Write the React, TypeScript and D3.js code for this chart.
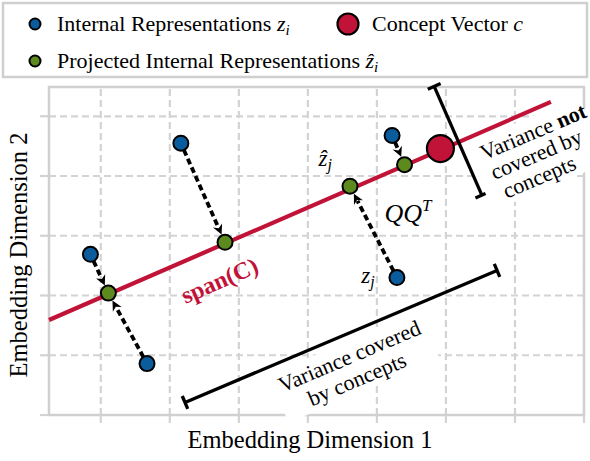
import React from "react";
import * as d3 from "d3";

// ---- data (data coordinates) ----
const xTicks = [0, 1, 2, 3, 4, 5, 6, 7];
const yTicks = [0, 1, 2, 3, 4, 5];

const blueX = [-0.15, 0.67, 1.16, 4.22, 4.29];
const blueY = [2.69, 0.86, 4.55, 4.68, 2.3];

const greenX = [0.11, 1.8, 3.61, 4.4];
const greenY = [2.04, 2.89, 3.83, 4.19];

// arrows: [blue index, green index]
const arrowPairs = [
  [0, 0],
  [1, 0],
  [2, 1],
  [3, 3],
  [4, 2],
];

const conceptX = [4.92];
const conceptY = [4.46];

const spanX = [-0.75, 6.52];
const spanY = [1.59, 5.24];

const coveredX = [1.22, 5.74];
const coveredY = [0.21, 2.42];

const notCoveredX = [4.83, 5.52];
const notCoveredY = [5.5, 3.68];

const BLUE = "#0b5c9c";
const GREEN = "#5d8a1e";
const RED = "#c11338";
const GRID = "#d3d3d3";
const INK = "#000";
const SERIF = "'Liberation Serif', 'Times New Roman', serif";

export default function App() {
  const W = 590;
  const H = 461;
  const x = d3.scaleLinear().domain([-0.75, 7]).range([49, 584]);
  const y = d3.scaleLinear().domain([0, 5.49]).range([415, 87]);
  const x0 = x.range()[0];
  const x1 = x.range()[1];
  const y0 = y.range()[0];
  const y1 = y.range()[1];

  const spanLine = d3
    .line<number>()
    .x((_, i) => x(spanX[i]))
    .y((_, i) => y(spanY[i]));

  const spanAngle =
    (Math.atan2(y(spanY[1]) - y(spanY[0]), x(spanX[1]) - x(spanX[0])) * 180) / Math.PI;

  const rPt = 7.5;
  const arrows = arrowPairs.map(([b, g], k) => {
    const sx = x(blueX[b]);
    const sy = y(blueY[b]);
    const ex = x(greenX[g]);
    const ey = y(greenY[g]);
    const dx = ex - sx;
    const dy = ey - sy;
    const L = Math.hypot(dx, dy);
    const ux = dx / L;
    const uy = dy / L;
    const px = -uy;
    const py = ux;
    const tipX = ex - ux * (rPt + 1);
    const tipY = ey - uy * (rPt + 1);
    const hl = 10;
    const hw = 10;
    const bx = tipX - ux * hl;
    const by = tipY - uy * hl;
    return (
      <g key={k}>
        <line
          x1={sx + ux * rPt}
          y1={sy + uy * rPt}
          x2={bx + ux * 2}
          y2={by + uy * 2}
          stroke={INK}
          strokeWidth={3.8}
          strokeDasharray="6,3.5"
        />
        <path
          d={`M${tipX},${tipY} L${bx + (px * hw) / 2},${by + (py * hw) / 2} L${bx + ux * 3},${by + uy * 3} L${bx - (px * hw) / 2},${by - (py * hw) / 2} Z`}
          fill={INK}
        />
      </g>
    );
  });

  const bracket = (xs: number[], ys: number[], key: string) => {
    const ax = x(xs[0]);
    const ay = y(ys[0]);
    const bx = x(xs[1]);
    const by = y(ys[1]);
    const L = Math.hypot(bx - ax, by - ay);
    const px = -(by - ay) / L;
    const py = (bx - ax) / L;
    const c = 7;
    return (
      <g key={key} stroke={INK} strokeWidth={3.3} strokeLinecap="butt">
        <line x1={ax} y1={ay} x2={bx} y2={by} />
        <line x1={ax - px * c} y1={ay - py * c} x2={ax + px * c} y2={ay + py * c} />
        <line x1={bx - px * c} y1={by - py * c} x2={bx + px * c} y2={by + py * c} />
      </g>
    );
  };

  // covered text geometry
  const cAx = x(coveredX[0]);
  const cAy = y(coveredY[0]);
  const cBx = x(coveredX[1]);
  const cBy = y(coveredY[1]);
  const cAng = (Math.atan2(cBy - cAy, cBx - cAx) * 180) / Math.PI;
  const cMx = (cAx + cBx) / 2;
  const cMy = (cAy + cBy) / 2;
  const cRad = (cAng * Math.PI) / 180;
  const cPx = -Math.sin(cRad);
  const cPy = Math.cos(cRad);
  const coveredCx = cMx + cPx * 33;
  const coveredCy = cMy + cPy * 33;

  // not-covered text geometry (block center beside the bracket)
  const nBx = x(notCoveredX[0]);
  const nBy = y(notCoveredY[0]);
  const nEx = x(notCoveredX[1]);
  const nEy = y(notCoveredY[1]);
  const nMx = (nBx + nEx) / 2;
  const nMy = (nBy + nEy) / 2;
  const notCx = nMx + 78;
  const notCy = nMy + 13;

  return (
    <svg
      width={W}
      height={H}
      viewBox={`0 0 ${W} ${H}`}
      style={{ position: "absolute", left: 0, top: 0, display: "block", background: "#fff" }}
      fontFamily={SERIF}
    >
      {/* legend */}
      <rect x={3} y={3} width={584} height={74} fill="#fff" stroke="#cfcfcf" strokeWidth={2.5} />
      <circle cx={35} cy={24} r={5.5} fill={BLUE} stroke={INK} strokeWidth={2} />
      <text x={57} y={31} fontSize={22} fill={INK}>
        Internal Representations <tspan fontStyle="italic">z</tspan>
        <tspan fontStyle="italic" fontSize={15} dy={4}>i</tspan>
      </text>
      <circle cx={348} cy={24} r={10.5} fill={RED} stroke={INK} strokeWidth={2.2} />
      <text x={372} y={31} fontSize={22} fill={INK}>
        Concept Vector <tspan fontStyle="italic">c</tspan>
      </text>
      <circle cx={35} cy={61} r={5.5} fill={GREEN} stroke={INK} strokeWidth={2} />
      <text x={57} y={68} fontSize={22} fill={INK}>
        Projected Internal Representations <tspan fontStyle="italic">ẑ</tspan>
        <tspan fontStyle="italic" fontSize={15} dy={4}>i</tspan>
      </text>

      {/* grid */}
      <g stroke={GRID} strokeWidth={2.2}>
        {xTicks.map((t) => (
          <line key={"gx" + t} x1={x(t)} x2={x(t)} y1={y0} y2={y1} strokeDasharray="7,4" />
        ))}
        {yTicks.map((t) => (
          <line key={"gy" + t} x1={x0} x2={x1} y1={y(t)} y2={y(t)} strokeDasharray="7,4" />
        ))}
        {xTicks.map((t) => (
          <line key={"tx" + t} x1={x(t)} x2={x(t)} y1={y0} y2={y0 + 8} />
        ))}
        {yTicks.map((t) => (
          <line key={"ty" + t} x1={x0 - 9} x2={x0} y1={y(t)} y2={y(t)} />
        ))}
      </g>
      <rect x={x0} y={y1} width={x1 - x0} height={y0 - y1} fill="none" stroke="#d0d0d0" strokeWidth={2.5} />

      {/* span line */}
      <path d={spanLine([0, 1]) || ""} stroke={RED} strokeWidth={4.2} fill="none" />

      {/* arrows */}
      {arrows}

      {/* brackets */}
      {bracket(coveredX, coveredY, "cov")}
      {bracket(notCoveredX, notCoveredY, "ncov")}

      {/* points */}
      {blueX.map((v, i) => (
        <circle key={"b" + i} cx={x(v)} cy={y(blueY[i])} r={rPt} fill={BLUE} stroke={INK} strokeWidth={2} />
      ))}
      {greenX.map((v, i) => (
        <circle key={"g" + i} cx={x(v)} cy={y(greenY[i])} r={rPt} fill={GREEN} stroke={INK} strokeWidth={2} />
      ))}
      {conceptX.map((v, i) => (
        <circle key={"c" + i} cx={x(v)} cy={y(conceptY[i])} r={13.5} fill={RED} stroke={INK} strokeWidth={2.2} />
      ))}

      {/* span label */}
      <text
        transform={`translate(${x(1.72)},${y(2.25)}) rotate(${spanAngle})`}
        textAnchor="middle"
        dominantBaseline="central"
        fontSize={24}
        fontWeight="bold"
        fill={RED}
      >
        span(C)
      </text>

      {/* z hat j */}
      <text x={x(3.25)} y={y(4.26) + 6} textAnchor="middle" fontSize={23} fontStyle="italic" fill={INK}>
        ẑ<tspan fontSize={16} dy={4}>j</tspan>
      </text>
      <text x={x(3.87)} y={y(2.29) + 5} textAnchor="middle" fontSize={23} fontStyle="italic" fill={INK}>
        z<tspan fontSize={16} dy={4}>j</tspan>
      </text>
      <text x={x(4.45)} y={y(3.38) + 9} textAnchor="middle" fontSize={26} fontStyle="italic" fill={INK}>
        QQ<tspan fontSize={17} dy={-11}>T</tspan>
      </text>

      {/* covered text */}
      <g transform={`translate(${coveredCx},${coveredCy}) rotate(${cAng})`}>
        <rect x={-82} y={-26} width={164} height={52} fill="#fff" />
        <text textAnchor="middle" fontSize={22} fill={INK} dominantBaseline="central">
          <tspan x={0} y={-12}>Variance covered</tspan>
          <tspan x={-2} y={12}>by concepts</tspan>
        </text>
      </g>

      {/* not covered text */}
      <g transform={`translate(${notCx},${notCy}) rotate(${cAng})`}>
        <rect x={-62} y={-36} width={124} height={72} fill="#fff" />
        <text textAnchor="middle" fontSize={22} fill={INK} dominantBaseline="central">
          <tspan x={6} y={-22}>
            Variance <tspan fontWeight="bold">not</tspan>
          </tspan>
          <tspan x={0} y={0}>covered by</tspan>
          <tspan x={-6} y={22}>concepts</tspan>
        </text>
      </g>

      {/* axis labels */}
      <text x={310} y={448} textAnchor="middle" fontSize={24.5} fill={INK}>
        Embedding Dimension 1
      </text>
      <text
        transform={`translate(27,${(y0 + y1) / 2 + 4}) rotate(-90)`}
        textAnchor="middle"
        fontSize={24.5}
        fill={INK}
      >
        Embedding Dimension 2
      </text>
    </svg>
  );
}
